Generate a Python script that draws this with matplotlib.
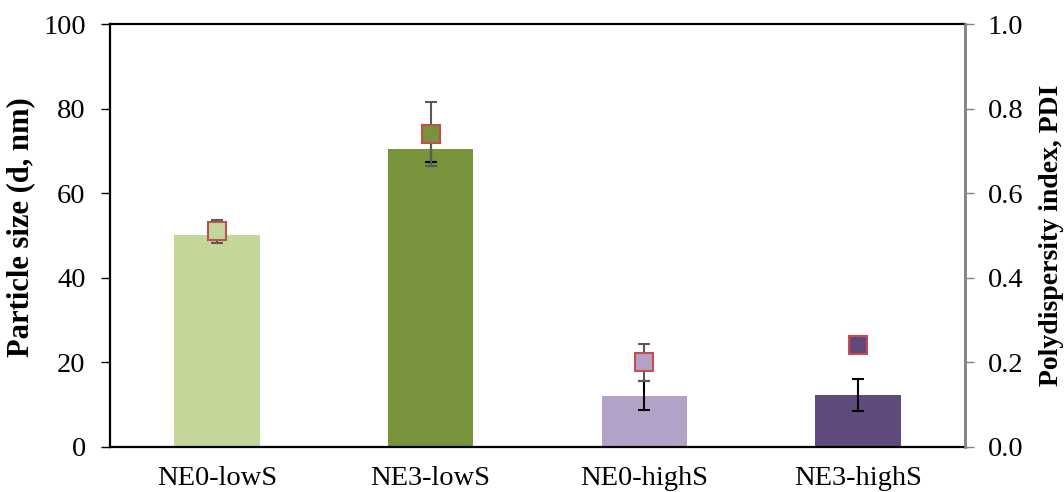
import numpy as np
import matplotlib
matplotlib.use("Agg")
import matplotlib.pyplot as plt

plt.rcParams['font.family'] = ['Liberation Serif', 'DejaVu Serif']

# data
samples = ["NE0-lowS", "NE3-lowS", "NE0-highS", "NE3-highS"]
size_nm = [50.0, 70.4, 12.1, 12.3]
size_err = [1.0, 3.0, 3.4, 3.8]
pdi = [0.51, 0.74, 0.20, 0.24]
pdi_err = [0.027, 0.075, 0.043, 0.01]
bar_colors = ["#c4d79b", "#77933c", "#b3a2c7", "#604a7b"]

fig = plt.figure(figsize=(10.64, 4.92), dpi=100)
ax = fig.add_axes([0.1034, 0.0915, 0.8035, 0.8597])
x = np.arange(len(samples))

ax.bar(x, size_nm, width=0.4, color=bar_colors, zorder=2)
ax.errorbar(x, size_nm, yerr=size_err, fmt='none', ecolor='black',
            elinewidth=1.5, capsize=4.5, capthick=1.5, zorder=3)

ax.set_xlim(-0.5, 3.5)
ax.set_ylim(0, 100)
ax.set_yticks(np.arange(0, 101, 20))
ax.set_xticks(x)
ax.set_xticklabels(samples, fontsize=20.5)
ax.tick_params(axis='x', length=0, pad=14)
ax.tick_params(axis='y', labelsize=20.5, length=6.5, width=1, pad=11, direction='out')
ax.set_ylabel("Particle size (d, nm)", fontsize=22, fontweight='bold')
ax.yaxis.set_label_coords(-0.0877, 0.52)
for s in ['left', 'bottom', 'top']:
    ax.spines[s].set_linewidth(1.6)
    ax.spines[s].set_color('black')
ax.spines['right'].set_visible(False)

ax2 = ax.twinx()
ax2.set_ylim(0, 1)
ax2.set_yticks(np.arange(0, 1.01, 0.2))
ax2.set_yticklabels([f"{v:.1f}" for v in np.arange(0, 1.01, 0.2)])
ax2.errorbar(x, pdi, yerr=pdi_err, fmt='none', ecolor='#595959',
             elinewidth=1.5, capsize=4.5, capthick=1.5, zorder=3)
for xi, yi, c in zip(x, pdi, bar_colors):
    ax2.plot(xi, yi, marker='s', markersize=12.5, markerfacecolor=c,
             markeredgecolor='#c0504d', markeredgewidth=1.5, zorder=4)
ax2.tick_params(axis='y', labelsize=20.5, length=6.5, width=1, pad=10,
                color='#808080', direction='out')
ax2.spines['right'].set_color('#808080')
ax2.spines['right'].set_linewidth(2)
for s in ['left', 'bottom', 'top']:
    ax2.spines[s].set_visible(False)
ax2.set_ylabel("Polydispersity index, PDI", fontsize=20, fontweight='bold')
ax2.yaxis.set_label_coords(1.0866, 0.5)

fig.savefig("out.png", dpi=100)
